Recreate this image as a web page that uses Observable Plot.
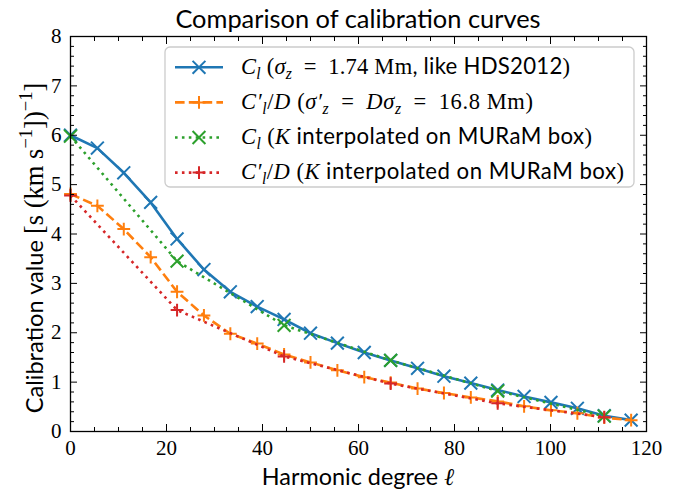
<!DOCTYPE html>
<html>
<head>
<meta charset="utf-8">
<script src="https://cdn.jsdelivr.net/npm/d3@7"></script>
<script src="https://cdn.jsdelivr.net/npm/@observablehq/plot@0.6"></script>
<style>
  body { margin: 0; background: #fff; }
  #chart { width: 692px; height: 492px; }
  text { white-space: pre; }
</style>
</head>
<body>
<div id="chart"></div>
<script>
// Harmonic degrees at which the full calibration curves are evaluated
const ell = [0, 5.6, 11.1, 16.7, 22.2, 27.8, 33.3, 38.9, 44.5, 50.0, 55.6,
             61.2, 66.7, 72.3, 77.8, 83.4, 89.0, 94.5, 100.1, 105.6, 111.2, 116.8];
// C_l with a fixed Gaussian kernel width (sigma_z = 1.74 Mm)
const clFixed = [6.00, 5.74, 5.24, 4.64, 3.90, 3.28, 2.83, 2.53, 2.27, 1.99, 1.79,
                 1.60, 1.44, 1.28, 1.12, 0.98, 0.84, 0.71, 0.59, 0.47, 0.32, 0.23];
// C'_l / D with the widened kernel (sigma'_z = D sigma_z = 16.8 Mm)
const clPrimeFixed = [4.81, 4.57, 4.10, 3.53, 2.83, 2.35, 1.98, 1.78, 1.56, 1.40, 1.24,
                      1.10, 0.99, 0.87, 0.78, 0.69, 0.61, 0.51, 0.43, 0.37, 0.28, 0.23];
// Degrees where the kernel K was interpolated on the MURaM box
const ellBox = [0, 22.2, 44.5, 66.7, 89.0, 111.2];
const clBox = [5.98, 3.45, 2.15, 1.44, 0.82, 0.31];
const clPrimeBox = [4.78, 2.46, 1.52, 0.97, 0.57, 0.29];

// Axis ticks
const xMajor = [0, 20, 40, 60, 80, 100, 120];
const xMinor = [5, 10, 15, 25, 30, 35, 45, 50, 55, 65, 70, 75, 85, 90, 95, 105, 110, 115];
const yMajor = [0, 1, 2, 3, 4, 5, 6, 7, 8];
const yMinor = d3.range(0, 8, 0.2).filter(v => Math.abs(v - Math.round(v)) > 1e-6);

const SERIF = "'Liberation Serif', 'DejaVu Serif', serif";
const SANS = "Lato, 'Liberation Sans', sans-serif";
const TICK_SIZE = 21;

const series = [
  {name: "fixed", l: ell, v: clFixed, color: "#1f77b4", dash: null, symbol: "times"},
  {name: "fixedPrime", l: ell, v: clPrimeFixed, color: "#ff7f0e", dash: "9.6,4.2", symbol: "plus"},
  {name: "box", l: ellBox, v: clBox, color: "#2ca02c", dash: "2.6,4.3", symbol: "times"},
  {name: "boxPrime", l: ellBox, v: clPrimeBox, color: "#d62728", dash: "2.6,4.3", symbol: "plus"}
];
const rowsOf = s => s.l.map((l, i) => ({l, v: s.v[i]}));
const markerR = {times: 5.9, plus: 4.2};

const curveMarks = series.flatMap(s => {
  const rows = rowsOf(s);
  return [
    Plot.line(rows, {x: "l", y: "v", stroke: s.color, strokeWidth: 2.6,
                     strokeDasharray: s.dash, strokeLinecap: "butt"}),
    Plot.dot(rows, {x: "l", y: "v", symbol: s.symbol, r: markerR[s.symbol],
                    stroke: s.color, strokeWidth: 2})
  ];
});

const chart = Plot.plot({
  width: 692,
  height: 492,
  marginLeft: 70,
  marginRight: 46,
  marginTop: 36,
  marginBottom: 61,
  style: {background: "#fff", color: "#000", overflow: "visible"},
  x: {domain: [0, 120]},
  y: {domain: [0, 8]},
  marks: [
    ...curveMarks,
    Plot.frame({stroke: "#000", strokeWidth: 1.3}),
    Plot.axisX({ticks: xMajor, anchor: "bottom", tickSize: -7, tickPadding: 16,
                fontSize: TICK_SIZE, fontFamily: SERIF, label: null}),
    Plot.axisX({ticks: xMinor, anchor: "bottom", tickSize: -4, tickFormat: () => "", label: null}),
    Plot.axisX({ticks: xMajor, anchor: "top", tickSize: -7, tickFormat: () => "", label: null}),
    Plot.axisX({ticks: xMinor, anchor: "top", tickSize: -4, tickFormat: () => "", label: null}),
    Plot.axisY({ticks: yMajor, anchor: "left", tickSize: -7, tickPadding: 16,
                fontSize: TICK_SIZE, fontFamily: SERIF, label: null}),
    Plot.axisY({ticks: yMinor, anchor: "left", tickSize: -4, tickFormat: () => "", label: null}),
    Plot.axisY({ticks: yMajor, anchor: "right", tickSize: -7, tickFormat: () => "", label: null}),
    Plot.axisY({ticks: yMinor, anchor: "right", tickSize: -4, tickFormat: () => "", label: null})
  ]
});
document.getElementById("chart").appendChild(chart);

// Mixed text: [string, style] with style s = sans, r = roman math, i = italic math,
// prefixed by _ for subscripts or ^ for superscripts.
function rich(g, x, y, parts, {size, mathSize = size, anchor = "start", width = null}) {
  const t = g.append("text").attr("x", x).attr("y", y)
    .attr("text-anchor", anchor).attr("fill", "#000");
  if (width) t.attr("textLength", width).attr("lengthAdjust", "spacing");
  let shift = 0;
  for (const [str, st] of parts) {
    const sub = st[0] === "_", sup = st[0] === "^";
    const base = sub || sup ? st.slice(1) : st;
    const fs = base === "s" ? size : mathSize;
    const span = t.append("tspan").text(str)
      .attr("font-family", base === "s" ? SANS : SERIF)
      .attr("font-style", base === "i" ? "italic" : "normal")
      .attr("font-size", sub || sup ? fs * 0.7 : fs);
    const target = sub ? 0.24 * fs : sup ? -0.42 * fs : 0;
    if (target !== shift) { span.attr("dy", target - shift); shift = target; }
  }
  return t;
}

const svg = d3.select(chart);
const overlay = svg.append("g");

// Title and axis labels
rich(overlay, 358, 28, [["Comparison of calibration curves", "s"]], {size: 25.4, anchor: "middle"});
rich(overlay, 358, 485, [["Harmonic degree ", "s"], ["ℓ", "i"]], {size: 23.4, mathSize: 24, anchor: "middle"});
const yLabel = overlay.append("g").attr("transform", "translate(43,248) rotate(-90)");
rich(yLabel, 0, 0, [
  ["Calibration value ", "s"], ["[s (km s", "r"], ["−1", "^r"], ["])", "r"], ["−1", "^r"], ["]", "r"]
], {size: 23.6, mathSize: 26.5, anchor: "middle"});

// Legend
const legend = overlay.append("g");
legend.append("rect").attr("x", 165).attr("y", 47).attr("width", 469).attr("height", 140)
  .attr("rx", 5).attr("fill", "#fff").attr("fill-opacity", 0.8)
  .attr("stroke", "#cccccc").attr("stroke-width", 1.3);

const EN = "\u2002";
const legendText = [
  [["C", "i"], ["l", "_i"], [" (", "r"], ["σ", "i"], ["z", "_i"], [EN + "=" + EN + "1.74 Mm", "r"],
   [", like HDS2012", "s"], [")", "r"]],
  [["C′", "i"], ["l", "_i"], ["/", "r"], ["D", "i"], [" (", "r"], ["σ′", "i"], ["z", "_i"],
   [EN + "=" + EN, "r"], ["Dσ", "i"], ["z", "_i"], [EN + "=" + EN + "16.8 Mm)", "r"]],
  [["C", "i"], ["l", "_i"], [" (", "r"], ["K", "i"], [" interpolated on MURaM box", "s"], [")", "r"]],
  [["C′", "i"], ["l", "_i"], ["/", "r"], ["D", "i"], [" (", "r"], ["K", "i"],
   [" interpolated on MURaM box", "s"], [")", "r"]]
];
const legendWidth = [329, 292, 351, 383];
const symbolType = {times: d3.symbolTimes, plus: d3.symbolPlus};
series.forEach((s, i) => {
  const y = 67.3 + i * 35.1;
  legend.append("line").attr("x1", 175).attr("x2", 223).attr("y1", y).attr("y2", y)
    .attr("stroke", s.color).attr("stroke-width", 2.6)
    .attr("stroke-dasharray", s.dash);
  const r = markerR[s.symbol];
  legend.append("path").attr("transform", `translate(199,${y})`)
    .attr("d", d3.symbol(symbolType[s.symbol], Math.PI * r * r)())
    .attr("fill", "none").attr("stroke", s.color).attr("stroke-width", 2);
  rich(legend, 241, y + 6.3, legendText[i], {size: 22.2, mathSize: 22.5, width: legendWidth[i]});
});
</script>
</body>
</html>
